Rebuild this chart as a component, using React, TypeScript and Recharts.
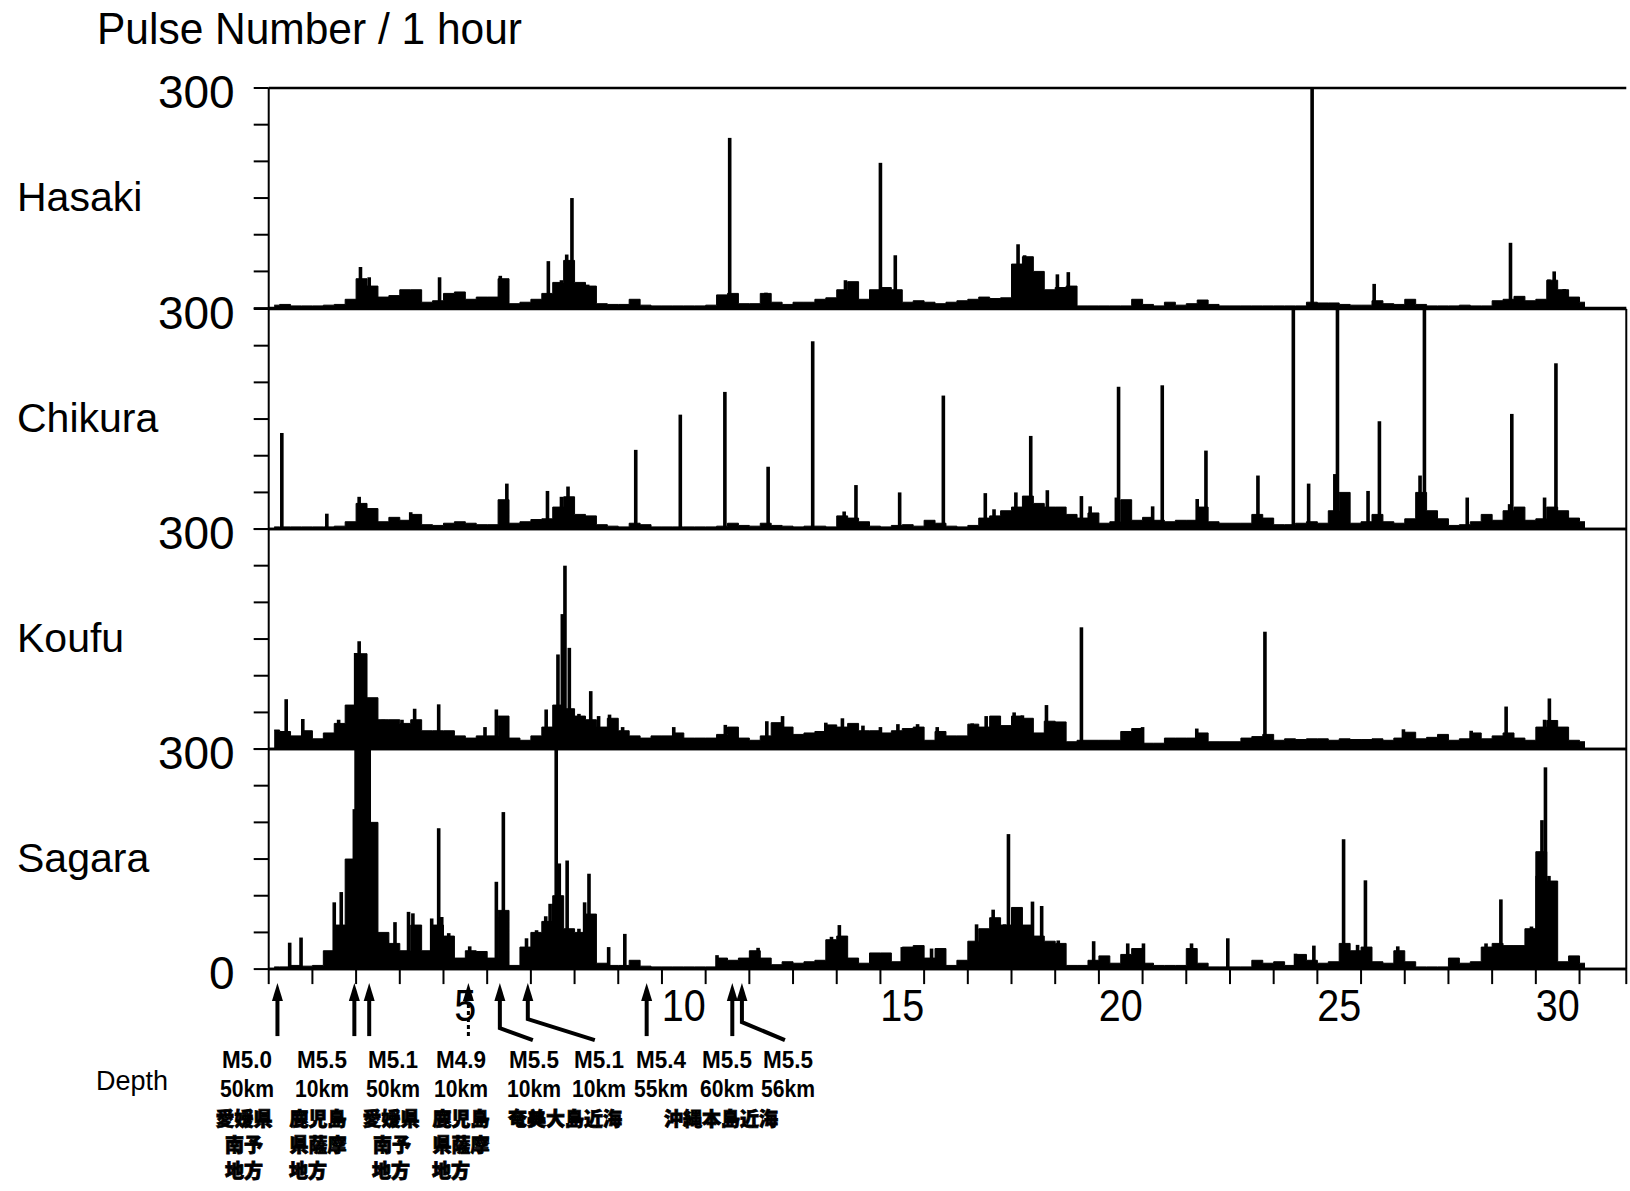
import { Area, ComposedChart, ReferenceLine, Scatter, XAxis, YAxis } from "recharts"

// hourly pulse counts, read as 6-hour levels (4 per day, day 1 .. day 31 first bin)
const hasakiLevel = [
  4, 5, 3, 3, 3, 4, 5, 12, 40, 30, 15, 17, 25, 25, 8, 10, 20, 22, 12, 15,
  15, 40, 6, 8, 12, 20, 35, 65, 35, 30, 6, 5, 5, 12, 4, 3, 3, 3, 3, 3,
  4, 18, 20, 6, 6, 20, 8, 5, 8, 8, 12, 14, 25, 36, 12, 25, 28, 25, 8, 10,
  8, 6, 8, 10, 12, 15, 13, 14, 60, 70, 50, 25, 28, 30, 3, 3, 3, 3, 3, 12,
  5, 3, 8, 4, 6, 11, 5, 3, 3, 3, 3, 3, 3, 3, 3, 8, 7, 7, 5, 4,
  4, 10, 6, 5, 12, 5, 3, 3, 3, 4, 3, 3, 10, 12, 16, 10, 12, 38, 25, 15,
  8,
]
const chikuraLevel = [
  3, 3, 3, 3, 3, 3, 4, 10, 35, 28, 10, 16, 12, 20, 6, 5, 8, 10, 8, 6,
  6, 40, 8, 10, 13, 14, 30, 44, 20, 18, 6, 4, 3, 8, 6, 3, 3, 3, 3, 3,
  3, 4, 8, 5, 4, 8, 5, 4, 3, 4, 4, 3, 18, 15, 10, 4, 3, 5, 6, 4,
  12, 8, 4, 3, 5, 15, 18, 25, 30, 45, 35, 30, 30, 20, 15, 22, 8, 10, 40, 12,
  16, 12, 10, 12, 12, 30, 10, 8, 8, 8, 20, 15, 6, 6, 8, 10, 8, 25, 50, 8,
  10, 20, 10, 8, 14, 50, 25, 14, 5, 6, 10, 20, 12, 25, 30, 12, 14, 30, 25, 15,
  10,
]
const koufuLevel = [
  26, 24, 18, 25, 14, 22, 35, 60, 130, 70, 40, 40, 35, 40, 25, 25, 25, 18, 15, 18,
  18, 45, 15, 12, 18, 30, 60, 55, 45, 40, 30, 42, 25, 18, 15, 18, 18, 22, 15, 15,
  15, 20, 30, 15, 12, 18, 36, 30, 20, 22, 24, 33, 30, 35, 25, 25, 22, 25, 28, 30,
  12, 24, 18, 18, 34, 30, 45, 32, 45, 42, 22, 38, 37, 10, 12, 12, 12, 12, 24, 28,
  8, 8, 15, 15, 15, 22, 10, 10, 10, 15, 17, 20, 12, 14, 13, 14, 14, 12, 14, 13,
  13, 14, 12, 15, 23, 14, 16, 20, 12, 14, 22, 14, 18, 22, 15, 12, 30, 39, 30, 12,
  10,
]
const sagaraLevel = [
  3, 3, 5, 4, 5, 25, 60, 150, 300, 200, 50, 35, 25, 60, 25, 60, 45, 15, 25, 24,
  15, 80, 5, 30, 50, 65, 100, 55, 50, 75, 8, 5, 5, 12, 4, 3, 3, 3, 3, 3,
  3, 15, 12, 15, 25, 15, 6, 10, 8, 10, 12, 40, 45, 15, 8, 22, 22, 10, 30, 32,
  15, 28, 5, 12, 38, 55, 70, 60, 84, 60, 45, 38, 35, 5, 5, 12, 18, 8, 20, 28,
  8, 5, 5, 5, 28, 8, 3, 3, 3, 3, 12, 8, 10, 5, 20, 12, 8, 10, 35, 25,
  30, 10, 8, 25, 10, 3, 3, 3, 15, 8, 10, 30, 35, 32, 32, 55, 160, 120, 10, 18,
  8,
]

// single-hour spikes: [day, count]
const hasakiSpikes = [
  [3.1, 56], [3.3, 42], [4.91, 42], [6.3, 44], [7.4, 64], [7.7, 38], [7.82, 73], [7.94, 150],
  [8.3, 32], [11.55, 232], [12.38, 21], [14.2, 38], [15.0, 198], [15.34, 72], [18.15, 87],
  [18.3, 72], [19.05, 46], [19.3, 49], [24.88, 300], [26.3, 33], [29.42, 89], [30.3, 39],
  [30.42, 50], [30.65, 26],
]
const chikuraSpikes = [
  [1.3, 131], [2.33, 21], [3.07, 44], [3.2, 35], [4.25, 23], [6.35, 36], [6.45, 62], [7.38, 52],
  [7.7, 44], [7.85, 58], [9.4, 108], [10.42, 156], [11.44, 187], [12.43, 85], [13.45, 256],
  [14.17, 24], [14.44, 60], [15.44, 50], [16.44, 182], [17.4, 49], [17.6, 27], [18.1, 50],
  [18.44, 127], [18.82, 53], [19.6, 45], [19.8, 31], [20.4, 43], [20.45, 194], [21.23, 31],
  [21.45, 196], [22.25, 41], [22.45, 107], [23.64, 73], [24.45, 300], [24.8, 62], [25.4, 75],
  [25.46, 300], [26.16, 52], [26.42, 147], [27.35, 73], [27.45, 300], [28.43, 43],
  [29.4, 34], [29.45, 157], [30.2, 43], [30.46, 226],
]
const koufuSpikes = [
  [1.4, 68], [1.78, 41], [2.6, 40], [2.99, 131], [3.07, 147], [3.2, 108], [3.62, 40],
  [3.75, 38], [3.9, 38], [4.05, 40], [4.34, 55], [4.89, 61], [5.95, 30], [6.21, 54],
  [7.35, 54], [7.62, 129], [7.72, 184], [7.78, 250], [7.88, 138], [8.1, 48], [8.37, 79],
  [8.55, 45], [8.8, 47], [9.1, 30], [10.27, 30], [11.45, 33], [12.4, 38], [12.76, 45],
  [13.75, 36], [14.13, 42], [14.6, 32], [15.0, 30], [15.4, 34], [15.85, 34], [16.3, 30],
  [17.1, 35], [17.42, 45], [17.7, 42], [18.06, 50], [18.25, 46], [18.8, 60], [19.6, 166],
  [21.0, 30], [22.24, 28], [23.8, 160], [26.97, 27], [28.52, 25], [29.32, 58], [30.2, 40],
  [30.31, 69],
]
const sagaraSpikes = [
  [1.48, 36], [1.74, 43], [2.5, 91], [2.66, 105], [2.89, 133], [2.96, 218], [3.0, 300],
  [3.05, 300], [3.1, 300], [3.15, 300], [3.2, 300], [3.25, 300], [3.3, 300], [3.4, 110],
  [3.71, 40], [3.89, 64], [4.2, 78], [4.3, 76], [4.73, 69], [4.89, 192], [4.96, 71],
  [5.12, 49], [5.6, 31], [6.21, 119], [6.3, 71], [6.37, 214], [6.9, 42], [7.13, 53],
  [7.34, 72], [7.44, 89], [7.52, 89], [7.58, 300], [7.65, 144], [7.83, 148], [8.1, 55],
  [8.23, 91], [8.33, 130], [8.78, 30], [9.15, 48], [11.26, 19], [12.2, 29], [13.88, 44],
  [14.06, 60], [15.5, 30], [16.17, 28], [17.2, 61], [17.58, 81], [17.84, 61], [17.93, 184],
  [18.05, 84], [18.15, 84], [18.48, 92], [18.69, 86], [19.07, 39], [19.88, 38], [20.66, 35],
  [21.02, 35], [22.12, 35], [22.95, 42], [24.5, 21], [24.92, 32], [25.6, 177], [25.92, 33],
  [26.1, 121], [26.84, 31], [28.86, 35], [29.2, 95], [29.9, 58], [30.03, 127], [30.14, 203],
  [30.22, 275], [30.3, 127], [30.41, 100],
]

const stations = ["Hasaki", "Chikura", "Koufu", "Sagara"]
const levels = [hasakiLevel, chikuraLevel, koufuLevel, sagaraLevel]
const spikes = [hasakiSpikes, chikuraSpikes, koufuSpikes, sagaraSpikes]

const yTicks = [0, 50, 100, 150, 200, 250, 300]
const dayTicks = [
  1, 2, 3, 4, 5, 6, 7, 8, 9, 10, 11, 12, 13, 14, 15, 16,
  17, 18, 19, 20, 21, 22, 23, 24, 25, 26, 27, 28, 29, 30, 31,
]
const dayLabelTicks = [5.5, 10.5, 15.5, 20.5, 25.5, 30.5]

// earthquakes marked under the time axis
const quakeTimes = [1.2, 2.96, 3.3, 5.57, 6.29, 6.93, 9.65, 11.61, 11.83]
const quakeMags = ["M5.0", "M5.5", "M5.1", "M4.9", "M5.5", "M5.1", "M5.4", "M5.5", "M5.5"]
const quakeDepths = ["50km", "10km", "50km", "10km", "10km", "10km", "55km", "60km", "56km"]
const landRegions = [
  ["愛媛県", "南予", "地方"],
  ["鹿児島", "県薩摩", "地方"],
  ["愛媛県", "南予", "地方"],
  ["鹿児島", "県薩摩", "地方"],
]
const seaRegions = ["奄美大島近海", "沖縄本島近海"]

const W = 1630
const H = 1191
const PLOT_LEFT = 268.7
const PLOT_RIGHT = 1626.3
const PLOT_TOP = 88.4
const PANEL_H = 220.1
const Y_AXIS_W = 120
const MT = 30
const DOMAIN_MAX = 32.07
const PX_PER_UNIT = PANEL_H / 300
const FONT = "'Liberation Sans', Arial, Helvetica, sans-serif"
const CJK = "'Noto Sans CJK JP', 'Noto Sans CJK SC', sans-serif"

// arrow styling per quake (bent arrows lead to their text column)
const arrowBends: Record<number, { bendY: number; dx: number }> = {
  4: { bendY: 59, dx: 33 },
  5: { bendY: 50, dx: 67 },
  8: { bendY: 53, dx: 43 },
}
const dashedArrows = [3]

const colX = [247, 322, 393, 461, 534, 599, 661, 727, 788]
const regionRowX = [
  [244, 318, 391, 461],
  [244, 318, 392, 461],
  [244, 308, 391, 451],
]
const seaX = [565, 721]

function Spike(props: any) {
  const { cx, cy, payload } = props
  if (cx == null || cy == null) return <g />
  return <rect x={cx - 1.8} y={cy} width={3.6} height={payload.v * PX_PER_UNIT} fill="#000" />
}

function makeYTick(showZero: boolean) {
  return function YTick(props: any) {
    const { x, y, payload } = props
    const v = payload.value
    if (v !== 300 && !(showZero && v === 0)) return <g />
    return (
      <text x={x} y={y + 4} textAnchor="end" dominantBaseline="central" fontSize={46} fontFamily={FONT} fill="#000">
        {v}
      </text>
    )
  }
}

function DayTick(props: any) {
  const { x, y, payload } = props
  const v = payload.value
  if (dayLabelTicks.includes(v)) {
    const s = String(Math.floor(v))
    return (
      <text
        x={x}
        y={y + 36}
        textAnchor="middle"
        dominantBaseline="central"
        fontSize={45}
        fontFamily={FONT}
        fill="#000"
        textLength={s.length * 22}
        lengthAdjust="spacingAndGlyphs"
      >
        {s}
      </text>
    )
  }
  return <line x1={x} y1={y} x2={x} y2={y + 15} stroke="#000" strokeWidth={2} />
}

function makeArrow(i: number) {
  return function QuakeArrow(props: any) {
    const { x1, y1, y2 } = props
    const x = x1
    const base = Math.max(y1, y2)
    const tip = base + 14
    const bend = arrowBends[i]
    const dashed = dashedArrows.includes(i)
    const head = `${x},${tip} ${x - 5.5},${tip + 18} ${x + 5.5},${tip + 18}`
    const shaft = bend
      ? `M${x},${tip + 14} L${x},${base + bend.bendY} L${x + bend.dx},${base + 71}`
      : `M${x},${tip + 14} L${x},${base + 67}`
    return (
      <g>
        <polygon points={head} fill="#000" />
        <path d={shaft} fill="none" stroke="#000" strokeWidth={dashed ? 3 : 4} strokeDasharray={dashed ? "4 3" : undefined} />
      </g>
    )
  }
}

function Panel({ idx }: { idx: number }) {
  const isLast = idx === 3
  const rows = levels[idx].map((v, i) => ({ t: 1 + (i + 0.5) / 4, v }))
  const spikeRows = spikes[idx].map(([t, v]) => ({ t, v }))
  const bottom = isLast ? 20 : 10
  const axisH = isLast ? 60 : 0
  const height = MT + PANEL_H + axisH + bottom
  const ticks = isLast ? [...dayTicks, ...dayLabelTicks, DOMAIN_MAX].sort((a, b) => a - b) : dayTicks

  return (
    <div style={{ position: "absolute", left: 0, top: PLOT_TOP + idx * PANEL_H - MT }}>
      <ComposedChart
        width={W}
        height={height}
        data={rows}
        margin={{ top: MT, right: W - PLOT_RIGHT, bottom, left: PLOT_LEFT - Y_AXIS_W }}
      >
        <XAxis
          type="number"
          dataKey="t"
          domain={[1, DOMAIN_MAX]}
          allowDataOverflow
          ticks={ticks}
          interval={0}
          hide={!isLast}
          height={axisH}
          tickSize={0}
          tickMargin={0}
          tickLine={false}
          tick={<DayTick />}
          axisLine={{ stroke: "#000", strokeWidth: 2.5 }}
        />
        <YAxis
          type="number"
          domain={[0, 300]}
          allowDataOverflow
          ticks={yTicks}
          interval={0}
          width={Y_AXIS_W}
          tickSize={15}
          tickMargin={19}
          tick={makeYTick(isLast)}
          axisLine={{ stroke: "#000", strokeWidth: 2 }}
          tickLine={{ stroke: "#000", strokeWidth: 2 }}
        />
        <Area
          type="step"
          dataKey="v"
          stroke="#000"
          strokeWidth={1}
          fill="#000"
          fillOpacity={1}
          dot={false}
          activeDot={false}
          isAnimationActive={false}
        />
        <Scatter data={spikeRows} dataKey="v" shape={Spike} isAnimationActive={false} />
        <ReferenceLine y={300} stroke="#000" strokeWidth={2.5} />
        <ReferenceLine y={0} stroke="#000" strokeWidth={2.5} />
        {idx > 0 && <ReferenceLine x={DOMAIN_MAX} stroke="#000" strokeWidth={2} />}
        {isLast &&
          quakeTimes.map((t, i) => (
            <ReferenceLine key={i} x={t} stroke="none" shape={makeArrow(i)} />
          ))}
      </ComposedChart>
    </div>
  )
}

export default function App() {
  return (
    <div style={{ position: "absolute", left: 0, top: 0, width: W, height: H, overflow: "hidden", background: "#fff" }}>
      {stations.map((_, i) => (
        <Panel key={i} idx={i} />
      ))}
      <svg width={W} height={H} style={{ position: "absolute", left: 0, top: 0, pointerEvents: "none" }}>
        <text x={97} y={44} fontSize={44} fontFamily={FONT} fill="#000" textLength={425} lengthAdjust="spacingAndGlyphs">
          Pulse Number / 1 hour
        </text>
        {stations.map((s, i) => (
          <text
            key={s}
            x={17}
            y={PLOT_TOP + i * PANEL_H + 109}
            dominantBaseline="central"
            fontSize={41}
            fontFamily={FONT}
            fill="#000"
          >
            {s}
          </text>
        ))}
        <text x={96} y={1081} dominantBaseline="central" fontSize={27} fontFamily={FONT} fill="#000">
          Depth
        </text>
        {quakeMags.map((m, i) => (
          <text
            key={"m" + i}
            x={colX[i]}
            y={1059}
            textAnchor="middle"
            dominantBaseline="central"
            fontSize={24}
            fontFamily={FONT}
            fontWeight={700}
            fill="#000"
            textLength={50}
            lengthAdjust="spacingAndGlyphs"
          >
            {m}
          </text>
        ))}
        {quakeDepths.map((d, i) => (
          <text
            key={"d" + i}
            x={colX[i]}
            y={1088}
            textAnchor="middle"
            dominantBaseline="central"
            fontSize={24}
            fontFamily={FONT}
            fontWeight={700}
            fill="#000"
            textLength={54}
            lengthAdjust="spacingAndGlyphs"
          >
            {d}
          </text>
        ))}
        {landRegions.map((lines, c) =>
          lines.map((ln, r) => (
            <text
              key={"r" + c + r}
              x={regionRowX[r][c]}
              y={1117 + r * 26}
              textAnchor="middle"
              dominantBaseline="central"
              fontSize={19}
              fontFamily={CJK}
              fontWeight={900}
              fill="#000"
              stroke="#000"
              strokeWidth={0.8}
            >
              {ln}
            </text>
          )),
        )}
        {seaRegions.map((s, i) => (
          <text
            key={"s" + i}
            x={seaX[i]}
            y={1117}
            textAnchor="middle"
            dominantBaseline="central"
            fontSize={19}
            fontFamily={CJK}
            fontWeight={900}
            fill="#000"
            stroke="#000"
            strokeWidth={0.8}
          >
            {s}
          </text>
        ))}
      </svg>
    </div>
  )
}
